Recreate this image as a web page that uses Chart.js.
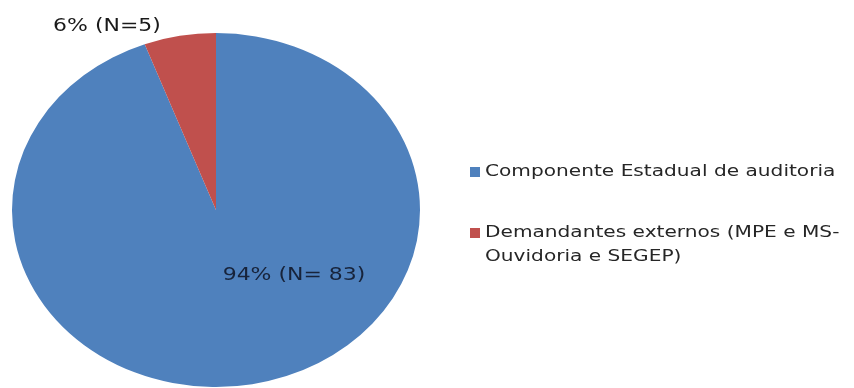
<!DOCTYPE html>
<html>
<head>
<meta charset="utf-8">
<script src="https://cdn.jsdelivr.net/npm/chart.js@4.4.1/dist/chart.umd.min.js"></script>
<style>
  html, body { margin: 0; padding: 0; background: #fff; }
  #wrap { position: relative; width: 854px; height: 388px; }
</style>
</head>
<body>
<div id="wrap"><canvas id="pieChart" width="854" height="388"></canvas></div>
<script>
const categories = ['Componente Estadual de auditoria', 'Demandantes externos (MPE e MS-Ouvidoria e SEGEP)'];
const legendLines = [['Componente Estadual de auditoria'], ['Demandantes externos (MPE e MS-', 'Ouvidoria e SEGEP)']];
const counts = [83, 5];
const sliceLabels = ['94% (N= 83)', '6% (N=5)'];
const colors = ['#4F81BD', '#C0504D'];

const FONT = '"DejaVu Sans", sans-serif';
const SX = 204 / 177;  // horizontal stretch of the pie
const TEXT_SX = 1.22;  // text is drawn a little wide too

// stretch the pie horizontally into an ellipse
const stretch = {
    id: 'stretch',
    beforeDatasetsDraw(chart) {
        const a = chart.chartArea;
        const cx = (a.left + a.right) / 2;
        const ctx = chart.ctx;
        ctx.save();
        ctx.translate(cx, 0);
        ctx.scale(SX, 1);
        ctx.translate(-cx, 0);
    },
    afterDatasetsDraw(chart) {
        chart.ctx.restore();
    }
};

function wideText(ctx, text, x, y) {
    ctx.save();
    ctx.translate(x, y);
    ctx.scale(TEXT_SX, 1);
    ctx.fillText(text, 0, 0);
    ctx.restore();
}

// slice labels and the legend on the right
const extras = {
    id: 'extras',
    afterDraw(chart) {
        const ctx = chart.ctx;
        const a = chart.chartArea;
        const cx = (a.left + a.right) / 2;
        const cy = (a.top + a.bottom) / 2;
        ctx.save();
        ctx.font = '18px ' + FONT;
        ctx.textAlign = 'center';
        ctx.textBaseline = 'middle';
        const labelPos = [[cx + 78, cy + 65], [cx - 109, 26]];
        const labelColor = ['#17233a', '#1a1a1a'];
        sliceLabels.forEach((t, i) => {
            ctx.fillStyle = labelColor[i];
            wideText(ctx, t, labelPos[i][0], labelPos[i][1]);
        });

        ctx.textAlign = 'left';
        ctx.font = '16.5px ' + FONT;
        const rowY = [172, 233];
        legendLines.forEach((lines, i) => {
            ctx.fillStyle = colors[i];
            ctx.fillRect(470, rowY[i] - 5, 10, 10);
            ctx.fillStyle = '#262626';
            lines.forEach((l, j) => wideText(ctx, l, 485, rowY[i] + j * 24));
        });
        ctx.restore();
    }
};

new Chart(document.getElementById('pieChart'), {
    type: 'pie',
    data: {
        labels: categories,
        datasets: [{
            data: counts,
            backgroundColor: colors,
            borderColor: colors,
            borderWidth: 0
        }]
    },
    options: {
        responsive: false,
        animation: false,
        layout: { padding: { left: 39, right: 461, top: 33, bottom: 1 } },
        plugins: {
            legend: { display: false },
            tooltip: { enabled: false }
        }
    },
    plugins: [stretch, extras]
});
</script>
</body>
</html>
